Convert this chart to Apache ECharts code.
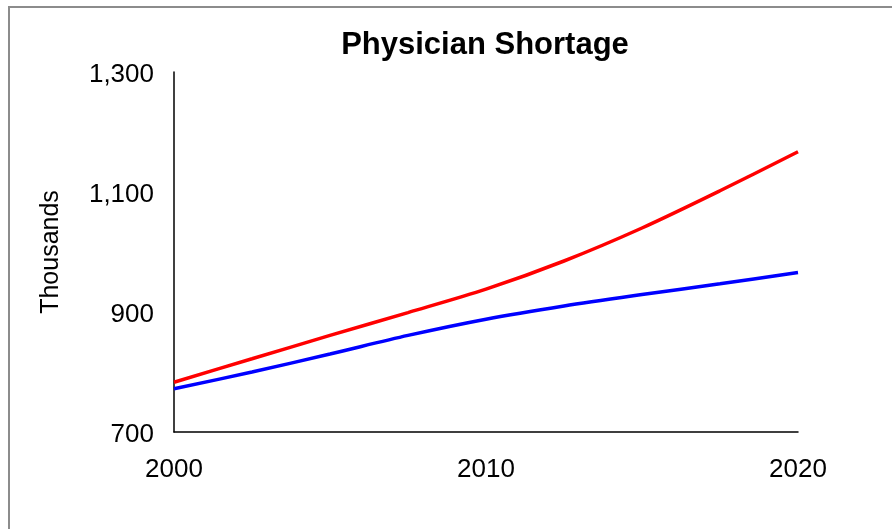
<!DOCTYPE html>
<html>
<head>
<meta charset="utf-8">
<script src="https://cdn.jsdelivr.net/npm/echarts@6/dist/echarts.min.js"></script>
<style>
  html, body { margin: 0; padding: 0; background: #ffffff; }
  #chart { width: 892px; height: 529px; }
</style>
</head>
<body>
<div id="chart"></div>
<script>
// Years sampled along the projection (thousands of physicians)
const years = [2000, 2002.5, 2005, 2007.5, 2010, 2012.5, 2015, 2017.5, 2020];
// Projected demand for physicians
const demand = [783, 822, 861, 899, 938, 985, 1040, 1102, 1167];
// Projected supply of physicians
const supply = [772, 800, 830, 861, 888, 910, 929, 947, 966];

const xTicks = [2000, 2010, 2020];
const yMin = 700, yMax = 1300, yStep = 200;

const font = '"Liberation Sans", Arial, sans-serif';

function pairs(xs, ys) {
  return xs.map((x, i) => [x, ys[i]]);
}

const chart = echarts.init(document.getElementById('chart'), null, { renderer: 'canvas' });

chart.setOption({
  backgroundColor: '#ffffff',
  animation: false,
  title: {
    text: 'Physician Shortage',
    left: 480,
    top: 25,
    textAlign: 'center',
    textStyle: { fontFamily: font, fontSize: 31, fontWeight: 'bold', color: '#000000' }
  },
  graphic: [{
    type: 'rect',
    shape: { x: 9, y: 7, width: 900, height: 540 },
    style: { fill: 'none', stroke: '#8c8c8c', lineWidth: 2 },
    silent: true,
    z: -1
  }],
  grid: { left: 174, right: 94, top: 72, bottom: 97, containLabel: false },
  xAxis: {
    type: 'value',
    min: xTicks[0],
    max: xTicks[xTicks.length - 1],
    interval: 10,
    axisLine: { show: true, lineStyle: { color: '#000000', width: 1.5 } },
    axisTick: { show: false },
    splitLine: { show: false },
    axisLabel: {
      margin: 25,
      fontFamily: font,
      fontSize: 26,
      color: '#000000',
      formatter: v => String(v)
    }
  },
  yAxis: {
    type: 'value',
    min: yMin,
    max: yMax,
    interval: yStep,
    name: 'Thousands',
    nameLocation: 'middle',
    nameGap: 110,
    nameRotate: 90,
    nameTextStyle: { fontFamily: font, fontSize: 25, color: '#000000' },
    axisLine: { show: true, lineStyle: { color: '#000000', width: 1.5 } },
    axisTick: { show: false },
    splitLine: { show: false },
    axisLabel: {
      margin: 20,
      color: '#000000',
      formatter: v => '{t|' + v.toLocaleString('en-US') + '}',
      rich: {
        t: {
          fontFamily: font,
          fontSize: 26,
          color: '#000000',
          padding: [6, 0, 0, 0]
        }
      }
    }
  },
  series: [
    {
      name: 'Demand',
      type: 'line',
      data: pairs(years, demand),
      smooth: 0.3,
      showSymbol: false,
      lineStyle: { color: '#ff0000', width: 3.5 },
      itemStyle: { color: '#ff0000' }
    },
    {
      name: 'Supply',
      type: 'line',
      data: pairs(years, supply),
      smooth: 0.3,
      showSymbol: false,
      lineStyle: { color: '#0000ff', width: 3.5 },
      itemStyle: { color: '#0000ff' }
    }
  ]
});
</script>
</body>
</html>
